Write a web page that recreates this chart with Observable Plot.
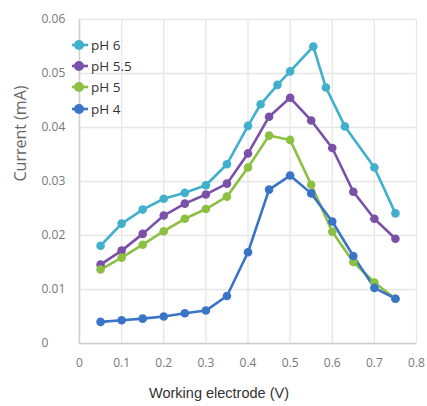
<!DOCTYPE html>
<html>
<head>
<meta charset="utf-8">
<script src="https://cdn.jsdelivr.net/npm/d3@7"></script>
<script src="https://cdn.jsdelivr.net/npm/@observablehq/plot@0.6"></script>
<style>
  body { margin: 0; background: #fff; font-family: "Open Sans", sans-serif; }
  #wrap { position: relative; width: 427px; height: 406px; }
  #legend { position: absolute; left: 71px; top: 34px; font-size: 13.5px; color: #333; }
  .row { display: flex; align-items: center; height: 21.4px; }
  .row svg { margin-right: 2px; }
</style>
</head>
<body>
<div id="wrap"><div id="legend"></div></div>
<script>
const seriesNames = ["pH 6", "pH 5.5", "pH 5", "pH 4"];
const seriesColors = ["#41b0cc", "#7a50a8", "#8cc043", "#3a74c6"];

const xPH6 = [0.05, 0.1, 0.15, 0.2, 0.25, 0.3, 0.35, 0.4, 0.43, 0.47, 0.5, 0.555, 0.585, 0.63, 0.7, 0.75];
const yPH6 = [0.0181, 0.0222, 0.0248, 0.0268, 0.0279, 0.0293, 0.0332, 0.0403, 0.0443, 0.0479, 0.0504, 0.0550, 0.0474, 0.0402, 0.0326, 0.0241];

const xCommon = [0.05, 0.1, 0.15, 0.2, 0.25, 0.3, 0.35, 0.4, 0.45, 0.5, 0.55, 0.6, 0.65, 0.7, 0.75];
const yPH55 = [0.0146, 0.0172, 0.0203, 0.0237, 0.0259, 0.0276, 0.0296, 0.0352, 0.0420, 0.0455, 0.0413, 0.0362, 0.0281, 0.0231, 0.0194];
const yPH5  = [0.0137, 0.0159, 0.0183, 0.0208, 0.0231, 0.0249, 0.0272, 0.0326, 0.0385, 0.0377, 0.0294, 0.0207, 0.0151, 0.0113, 0.0083];
const yPH4  = [0.0040, 0.0043, 0.0046, 0.0050, 0.0056, 0.0061, 0.0088, 0.0169, 0.0285, 0.0311, 0.0278, 0.0226, 0.0162, 0.0103, 0.0083];

const xTicks = [0, 0.1, 0.2, 0.3, 0.4, 0.5, 0.6, 0.7, 0.8];
const yTicks = [0, 0.01, 0.02, 0.03, 0.04, 0.05, 0.06];
const xLabel = "Working electrode (V)";
const yLabel = "Current (mA)";

const seriesX = [xPH6, xCommon, xCommon, xCommon];
const seriesY = [yPH6, yPH55, yPH5, yPH4];
const data = [];
seriesNames.forEach((name, i) => {
  seriesY[i].forEach((v, j) => data.push({series: name, x: seriesX[i][j], y: v}));
});

const chart = Plot.plot({
  width: 427,
  height: 406,
  marginLeft: 79,
  marginRight: 11,
  marginTop: 19,
  marginBottom: 63,
  style: {fontFamily: "Open Sans, sans-serif", fontSize: "12px", background: "transparent"},
  x: {domain: [0, 0.8], ticks: xTicks, tickFormat: d => String(d), label: null},
  y: {domain: [0, 0.06], ticks: yTicks, tickFormat: d => String(d), label: null},
  color: {domain: seriesNames, range: seriesColors},
  marks: [
    Plot.gridX(xTicks, {stroke: "#e6e6e6", strokeOpacity: 1, strokeWidth: 1.3}),
    Plot.gridY(yTicks, {stroke: "#e6e6e6", strokeOpacity: 1, strokeWidth: 1.3}),
    Plot.ruleX([0], {stroke: "#cfcfcf", strokeWidth: 1.5}),
    Plot.ruleY([0], {stroke: "#cfcfcf", strokeWidth: 1.5}),
    Plot.axisX({ticks: xTicks, tickFormat: d => String(d), tickSize: 0, tickPadding: 15, fill: "#777", fontSize: 12}),
    Plot.axisY({ticks: yTicks, tickFormat: d => String(d), tickSize: 0, tickPadding: 38, textAnchor: "start", fill: "#777", fontSize: 12}),
    Plot.line(data, {x: "x", y: "y", z: "series", stroke: "series", strokeWidth: 2.6}),
    Plot.dot(data, {x: "x", y: "y", fill: "series", r: 4.3}),
    Plot.text([yLabel], {text: d => d, frameAnchor: "left", dx: -59, rotate: -90, fontSize: 16, fill: "#666"}),
    Plot.text([xLabel], {text: d => d, frameAnchor: "bottom", dx: -29, dy: 54, fontSize: 14.5, fill: "#333", fontFamily: "Liberation Sans, Arial, sans-serif"})
  ]
});
document.getElementById("wrap").prepend(chart);

const legend = document.getElementById("legend");
seriesNames.forEach((name, i) => {
  const row = document.createElement("div");
  row.className = "row";
  row.innerHTML = `<svg width="18" height="14"><line x1="1" x2="17" y1="7" y2="7" stroke="${seriesColors[i]}" stroke-width="2.6"/><circle cx="8" cy="7" r="5" fill="${seriesColors[i]}"/></svg><span>${name}</span>`;
  legend.appendChild(row);
});
</script>
</body>
</html>
